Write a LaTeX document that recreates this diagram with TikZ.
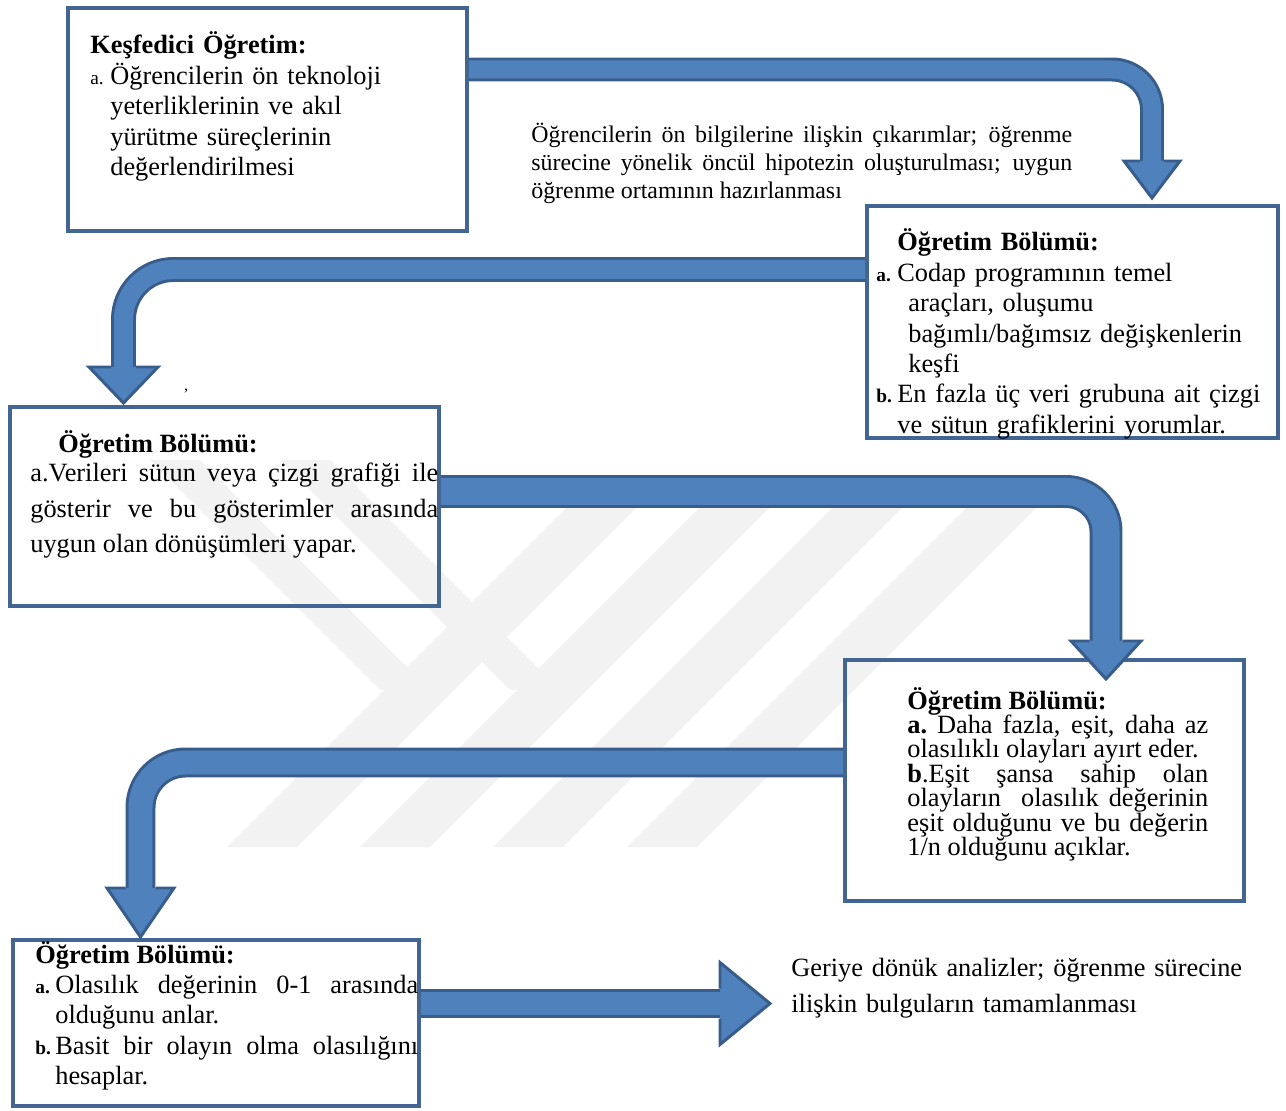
\documentclass[tikz,border=0pt]{standalone}
\usepackage{fontspec}
\setmainfont{Liberation Serif}
\usetikzlibrary{calc}
\usetikzlibrary{positioning}
\definecolor{custom-blue}{RGB}{79, 129, 189}
\definecolor{custom-darkblue}{RGB}{56, 93, 138}
\definecolor{custom-frame}{RGB}{66, 101, 148}
\definecolor{custom-mark}{RGB}{242, 242, 242}

\begin{document}
\begin{tikzpicture}[x=0.02cm, y=-0.02cm,
        frame/.style={draw=custom-frame, line width=2.27pt, inner sep=0pt, outer sep=0pt, anchor=north west},
        band/.style={draw=custom-darkblue, double=custom-blue, line width=1.7pt, rounded corners=0.8cm},
        headline/.style={draw=custom-darkblue, line width=1.7pt},
        textbox/.style={anchor=base west, inner sep=0pt, font=\fontsize{15}{17.3}\selectfont}]
                \useasboundingbox (0, 0) rectangle (1286, 1111);
                % faint watermark
                \foreach \x in {227, 360, 493, 627}
                    \fill[custom-mark] (\x, 847) -- ++(70, 0) -- ++(352, -352) -- ++(-70, 0) -- cycle;
                \foreach \x in {150, 280}
                    \fill[custom-mark] (\x, 460) -- ++(50, 0) -- ++(230, 230) -- ++(-50, 0) -- cycle;
                % arrow ends
                \coordinate (u1) at (1152, 161);
                \coordinate (u2) at (123.5, 367);
                \coordinate (u3) at (1106, 641);
                \coordinate (u4) at (140.5, 888);
                \coordinate (u5) at (720, 1003.5);
                % boxes
                \node[frame, minimum width=7.98cm, minimum height=4.46cm] (k1) at (68, 8) {};
                \node[frame, minimum width=8.22cm, minimum height=4.64cm] (k2) at (867, 206) {};
                \node[frame, minimum width=8.58cm, minimum height=3.98cm] (k3) at (10, 407) {};
                \node[frame, minimum width=7.98cm, minimum height=4.82cm] (k4) at (845, 660) {};
                \node[frame, minimum width=8.12cm, minimum height=3.32cm] (k5) at (13, 940) {};
                % shafts
                \draw[band, double distance=0.36cm] ($(k1.north east)+(0, 61.5)$) -| ($(u1)+(0, 1)$);
                \draw[band, double distance=0.38cm, rounded corners=1cm] ($(k2.north west)+(0, 63.5)$) -| ($(u2)+(0, 1)$);
                \draw[band, double distance=0.54cm] ($(k3.north east)+(0, 84.5)$) -| ($(u3)+(0, 1)$);
                \draw[band, double distance=0.48cm, rounded corners=0.9cm] ($(k4.north west)+(0, 102.5)$) -| ($(u4)+(0, 1)$);
                \draw[band, double distance=0.48cm] ($(k5.north east)+(0, 63.5)$) -- ($(u5)+(1, 0)$);
                % redraw frames over the shaft ends
                \foreach \k in {k1, k2, k3, k4, k5}
                    \draw[draw=custom-frame, line width=2.27pt] (\k.north west) rectangle (\k.south east);
                % heads
                \fill[custom-blue] (u1) ++(-28, 0) -- ++(28, 37) -- ++(28, -37) -- cycle;
                \draw[headline] (u1) ++(-12, 0) -- ++(-16, 0) -- ++(28, 37) -- ++(28, -37) -- ++(-16, 0);
                \fill[custom-blue] (u2) ++(-34.5, 0) -- ++(34.5, 36) -- ++(34.5, -36) -- cycle;
                \draw[headline] (u2) ++(-12.5, 0) -- ++(-22, 0) -- ++(34.5, 36) -- ++(34.5, -36) -- ++(-22, 0);
                \fill[custom-blue] (u3) ++(-35, 0) -- ++(35, 38) -- ++(35, -38) -- cycle;
                \draw[headline] (u3) ++(-16.5, 0) -- ++(-18.5, 0) -- ++(35, 38) -- ++(35, -38) -- ++(-18.5, 0);
                \fill[custom-blue] (u4) ++(-33.5, 0) -- ++(33.5, 49) -- ++(33.5, -49) -- cycle;
                \draw[headline] (u4) ++(-15, 0) -- ++(-18.5, 0) -- ++(33.5, 49) -- ++(33.5, -49) -- ++(-18.5, 0);
                \fill[custom-blue] (u5) ++(0, -41) -- ++(50, 41) -- ++(-50, 41) -- cycle;
                \draw[headline] (u5) ++(0, -15) -- ++(0, -26) -- ++(50, 41) -- ++(-50, 41) -- ++(0, -26);
                % texts
                \node[textbox, text width=7.2cm, align=left] (t1) at (90, 54) {\textbf{Keşfedici Öğretim:}\par
                    \hangindent=0.4cm\hangafter=1\makebox[0.4cm][l]{\fontsize{11}{13}\selectfont a.}Öğrencilerin ön teknoloji\break yeterliklerinin ve akıl\break yürütme süreçlerinin\break değerlendirilmesi\par};
                \node[textbox, text width=10.82cm, align=justify, font=\fontsize{13.6}{15.9}\selectfont] (c1) at (531, 143) {Öğrencilerin ön bilgilerine ilişkin çıkarımlar; öğrenme\linebreak sürecine yönelik öncül hipotezin oluşturulması; uygun\linebreak öğrenme ortamının hazırlanması};
                \node[textbox, text width=8cm, align=left] (t2) at (876, 251) {\hspace*{0.42cm}\textbf{Öğretim Bölümü:}\par
                    \hangindent=0.64cm\hangafter=1\makebox[0.42cm][l]{\fontsize{11}{13}\selectfont\bfseries a.}Codap programının temel\break araçları, oluşumu\break bağımlı/bağımsız değişkenlerin\break keşfi\par
                    \hangindent=0.42cm\hangafter=1\makebox[0.42cm][l]{\fontsize{11}{13}\selectfont\bfseries b.}En fazla üç veri grubuna ait çizgi\break ve sütun grafiklerini yorumlar.\par};
                \node[inner sep=0pt, font=\fontsize{9}{10}\selectfont] (iz) at (186, 394) {’};
                \node[textbox, text width=8.16cm, align=justify] (t3) at (30, 453) {\hspace*{0.56cm}\textbf{Öğretim Bölümü:}\par\vspace{-0.13cm}
                    {\fontsize{15}{20.2}\selectfont a.Verileri sütun veya çizgi grafiği ile\linebreak gösterir ve bu gösterimler arasında\linebreak uygun olan dönüşümleri yapar.\par}};
                \node[textbox, text width=6.02cm, align=justify, font=\fontsize{15}{13.9}\selectfont] (t4) at (907, 709) {\textbf{Öğretim Bölümü:}\par
                    \textbf{a.}~Daha fazla, eşit, daha az\linebreak olasılıklı olayları ayırt eder.\par
                    \textbf{b}.Eşit şansa sahip olan\linebreak olayların\ \ olasılık değerinin\linebreak eşit olduğunu ve bu değerin\linebreak 1/n olduğunu açıklar.};
                \node[textbox, text width=7.66cm, align=justify] (t5) at (35, 963) {\textbf{Öğretim Bölümü:}\par
                    \hangindent=0.4cm\hangafter=1\makebox[0.4cm][l]{\fontsize{11}{13}\selectfont\bfseries a.}Olasılık değerinin 0-1 arasında\linebreak olduğunu anlar.\par
                    \hangindent=0.4cm\hangafter=1\makebox[0.4cm][l]{\fontsize{11}{13}\selectfont\bfseries b.}Basit bir olayın olma olasılığını\linebreak hesaplar.\par};
                \node[textbox, text width=9.5cm, align=left, font=\fontsize{15}{20.5}\selectfont] (c2) at (791, 976) {Geriye dönük analizler; öğrenme sürecine\\ ilişkin bulguların tamamlanması};
            \end{tikzpicture}
\end{document}
